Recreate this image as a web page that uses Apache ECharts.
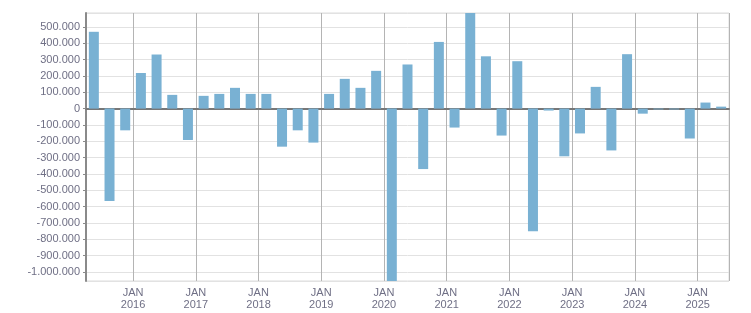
<!DOCTYPE html>
<html>
<head>
<meta charset="utf-8">
<script src="https://cdn.jsdelivr.net/npm/echarts@6/dist/echarts.min.js"></script>
<style>
  html, body { margin: 0; padding: 0; background: #fff; }
  #chart { width: 751px; height: 313px; }
</style>
</head>
<body>
<div id="chart"></div>
<script>
// quarters shown (Q2 2015 .. Q2 2025)
const quarters = [
  '2015-Q2', '2015-Q3', '2015-Q4',
  '2016-Q1', '2016-Q2', '2016-Q3', '2016-Q4',
  '2017-Q1', '2017-Q2', '2017-Q3', '2017-Q4',
  '2018-Q1', '2018-Q2', '2018-Q3', '2018-Q4',
  '2019-Q1', '2019-Q2', '2019-Q3', '2019-Q4',
  '2020-Q1', '2020-Q2', '2020-Q3', '2020-Q4',
  '2021-Q1', '2021-Q2', '2021-Q3', '2021-Q4',
  '2022-Q1', '2022-Q2', '2022-Q3', '2022-Q4',
  '2023-Q1', '2023-Q2', '2023-Q3', '2023-Q4',
  '2024-Q1', '2024-Q2', '2024-Q3', '2024-Q4',
  '2025-Q1', '2025-Q2'
];

// values
const values = [
  470000, -565000, -133000,
  218000, 331000, 84000, -192000,
  78000, 90000, 127000, 90000,
  90000, -233000, -133000, -208000,
  90000, 182000, 127000, 231000,
  -1100000, 270000, -370000, 408000,
  -116000, 600000, 320000, -165000,
  290000, -750000, -12000, -292000,
  -152000, 133000, -256000, 333000,
  -31000, -5000, -5000, -183000,
  37000, 12000
];

const yMin = -1055000;
const yMax = 585000;
const yStep = 100000;

// quarter boundaries (start of every quarter + end of last one)
const boundaries = quarters.concat(['2025-Q3']);

const textColor = '#6f6f85';
const font = 'Liberation Sans';

function fmtNum(v) {
  let s = Math.abs(v).toString().replace(/\B(?=(\d{3})+(?!\d))/g, '.');
  return (v < 0 ? '-' : '') + s;
}

let chart = echarts.init(document.getElementById('chart'));
chart.setOption({
  animation: false,
  grid: {
    left: 86, right: 22, top: 13, bottom: 32,
    show: true, borderColor: '#dcdcdc', borderWidth: 1
  },
  xAxis: [{
    type: 'category',
    data: quarters,
    axisLine: { lineStyle: { color: '#777', width: 2 } },
    axisTick: { interval: 0, length: 4, lineStyle: { color: '#777' } },
    axisLabel: { show: false },
    splitLine: {
      show: true,
      interval: (i, v) => v.endsWith('Q1'),
      lineStyle: { color: '#b4b4b4', width: 1 }
    }
  }, {
    type: 'category',
    data: boundaries,
    boundaryGap: false,
    position: 'bottom',
    axisLine: { show: false },
    axisTick: { show: false },
    splitLine: { show: false },
    axisLabel: {
      interval: (i, v) => v.endsWith('Q1'),
      formatter: v => 'JAN\n' + v.slice(0, 4),
      color: textColor,
      fontFamily: font,
      fontSize: 11,
      lineHeight: 12,
      margin: 6
    }
  }],
  yAxis: {
    type: 'value',
    min: yMin,
    max: yMax,
    splitNumber: 16,
    minInterval: yStep,
    maxInterval: yStep,
    axisLine: { show: true, lineStyle: { color: '#8a8a8a', width: 2 } },
    axisTick: { show: true, length: 3, lineStyle: { color: '#8a8a8a' } },
    axisLabel: {
      showMinLabel: false,
      showMaxLabel: false,
      formatter: fmtNum,
      color: textColor,
      fontFamily: font,
      fontSize: 11,
      margin: 6
    },
    splitLine: { lineStyle: { color: '#e2e2e2', width: 1 } }
  },
  series: [{
    type: 'bar',
    data: values,
    barWidth: 10,
    itemStyle: { color: '#79b1d3' },
    clip: true
  }]
});
</script>
</body>
</html>
